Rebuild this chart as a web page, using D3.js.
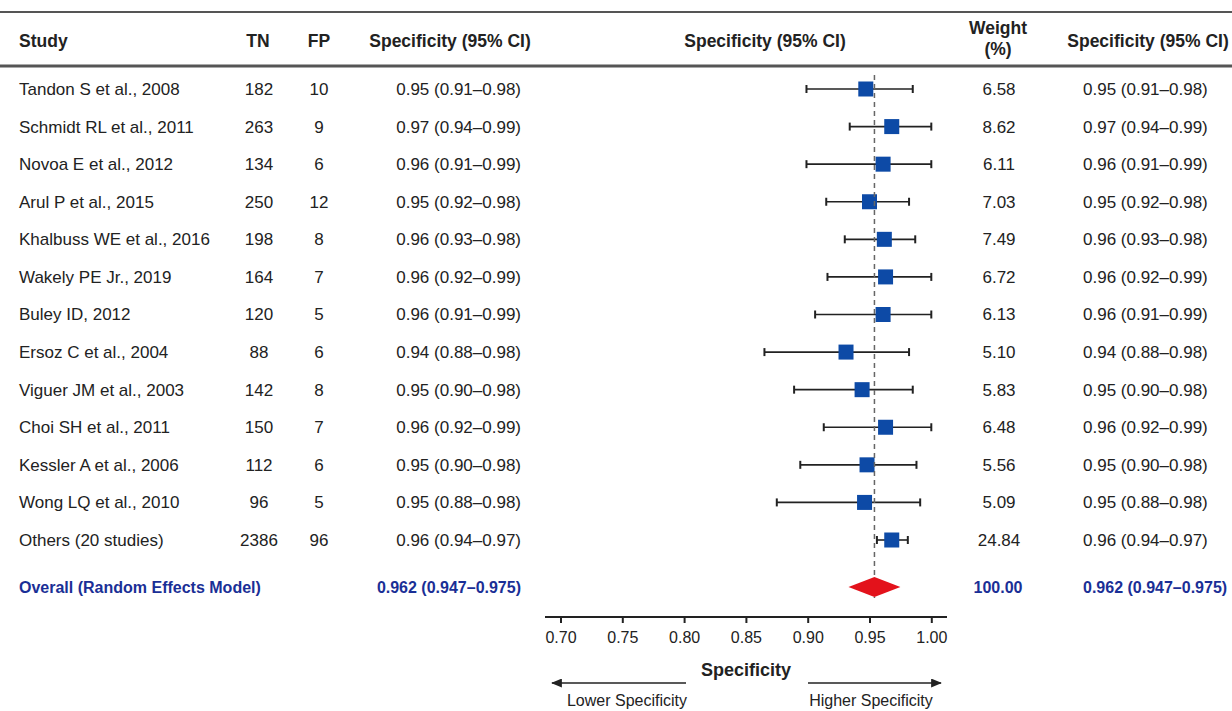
<!DOCTYPE html>
<html><head><meta charset="utf-8">
<script src="https://cdn.jsdelivr.net/npm/d3@7"></script>
<style>
body{margin:0;background:#fff;}
svg{display:block;font-family:"Liberation Sans",Arial,sans-serif;}
</style></head>
<body>
<svg id="chart" width="1232" height="711"></svg>
<script>
// ---- data ----
const studies = ["Tandon S et al., 2008","Schmidt RL et al., 2011","Novoa E et al., 2012","Arul P et al., 2015","Khalbuss WE et al., 2016","Wakely PE Jr., 2019","Buley ID, 2012","Ersoz C et al., 2004","Viguer JM et al., 2003","Choi SH et al., 2011","Kessler A et al., 2006","Wong LQ et al., 2010","Others (20 studies)"];
const tn = [182,263,134,250,198,164,120,88,142,150,112,96,2386];
const fp = [10,9,6,12,8,7,5,6,8,7,6,5,96];
const ciText = ["0.95 (0.91\u20130.98)","0.97 (0.94\u20130.99)","0.96 (0.91\u20130.99)","0.95 (0.92\u20130.98)","0.96 (0.93\u20130.98)","0.96 (0.92\u20130.99)","0.96 (0.91\u20130.99)","0.94 (0.88\u20130.98)","0.95 (0.90\u20130.98)","0.96 (0.92\u20130.99)","0.95 (0.90\u20130.98)","0.95 (0.88\u20130.98)","0.96 (0.94\u20130.97)"];
const weights = ["6.58","8.62","6.11","7.03","7.49","6.72","6.13","5.10","5.83","6.48","5.56","5.09","24.84"];
// plotted positions
const est = [0.947,0.968,0.961,0.950,0.962,0.963,0.961,0.931,0.944,0.963,0.948,0.946,0.968];
const lo  = [0.899,0.934,0.899,0.915,0.930,0.916,0.906,0.865,0.889,0.913,0.894,0.875,0.956];
const hi  = [0.985,1.000,1.000,0.982,0.987,1.000,1.000,0.982,0.985,1.000,0.988,0.991,0.981];
const overallLabel = "Overall (Random Effects Model)";
const overallText = "0.962 (0.947\u20130.975)";
const overallWeight = "100.00";
const overallEst = 0.954, overallLo = 0.933, overallHi = 0.975;
const refLine = 0.954;
const xTicks = [0.70,0.75,0.80,0.85,0.90,0.95,1.00];

// ---- drawing ----
const svg = d3.select("#chart");
const txt = "#222", blue = "#1a2f96", sq = "#0d4aa6", red = "#e3121b";
const x = d3.scaleLinear().domain([0.70,1.00]).range([560.5,931.3]);
const y = d3.scalePoint().domain(studies).range([89,540]);
const yOverall = 587;
const fs = 17;

// rules
svg.append("line").attr("x1",0).attr("x2",1232).attr("y1",12).attr("y2",12).attr("stroke","#555").attr("stroke-width",2);
svg.append("line").attr("x1",0).attr("x2",1232).attr("y1",66).attr("y2",66).attr("stroke","#555").attr("stroke-width",3);

// headers
const hdr = (t,xx,yy,anchor)=>svg.append("text").attr("x",xx).attr("y",yy).attr("text-anchor",anchor).attr("dy","0.35em")
  .attr("font-size",17.5).attr("font-weight","bold").attr("fill",txt).text(t);
hdr("Study",19,41,"start");
hdr("TN",258,41,"middle");
hdr("FP",319,41,"middle");
hdr("Specificity (95% CI)",450,41,"middle");
hdr("Specificity (95% CI)",765,41,"middle");
hdr("Weight",998,28,"middle");
hdr("(%)",998,49,"middle");
hdr("Specificity (95% CI)",1148,41,"middle");

// rows
const rows = svg.append("g").selectAll("g").data(studies).join("g")
  .attr("transform",d=>`translate(0,${y(d)})`);
const cell = (sel,xx,anchor,f)=>sel.append("text").attr("x",xx).attr("dy","0.35em").attr("text-anchor",anchor)
  .attr("font-size",fs).attr("fill",txt).text(f);
cell(rows,19,"start",d=>d);
cell(rows,259,"middle",(d,i)=>tn[i]);
cell(rows,319,"middle",(d,i)=>fp[i]);
cell(rows,521,"end",(d,i)=>ciText[i]);
cell(rows,999,"middle",(d,i)=>weights[i]);
cell(rows,1083,"start",(d,i)=>ciText[i]);

// reference dashed line
svg.append("line").attr("x1",x(refLine)).attr("x2",x(refLine)).attr("y1",75).attr("y2",598)
  .attr("stroke","#666").attr("stroke-width",1.5).attr("stroke-dasharray","5,4");

// whiskers
rows.append("line").attr("x1",(d,i)=>x(lo[i])).attr("x2",(d,i)=>x(hi[i])).attr("stroke","#222").attr("stroke-width",1.6);
rows.append("line").attr("x1",(d,i)=>x(lo[i])).attr("x2",(d,i)=>x(lo[i])).attr("y1",-4).attr("y2",4).attr("stroke","#222").attr("stroke-width",2);
rows.append("line").attr("x1",(d,i)=>x(hi[i])).attr("x2",(d,i)=>x(hi[i])).attr("y1",-4).attr("y2",4).attr("stroke","#222").attr("stroke-width",2);
const s = 15;
rows.append("rect").attr("x",(d,i)=>x(est[i])-s/2).attr("y",-s/2).attr("width",s).attr("height",s).attr("fill",sq);

// overall
const ov = svg.append("g").attr("transform",`translate(0,${yOverall})`);
const btxt = (xx,anchor,t)=>ov.append("text").attr("x",xx).attr("dy","0.35em").attr("text-anchor",anchor)
  .attr("font-size",16).attr("font-weight","bold").attr("fill",blue).text(t);
btxt(19,"start",overallLabel);
btxt(521,"end",overallText);
btxt(998,"middle",overallWeight);
btxt(1083,"start",overallText);
ov.append("path").attr("d",`M${x(overallLo)},0L${x(overallEst)},-10L${x(overallHi)},0L${x(overallEst)},10Z`).attr("fill",red);

// axis
const axisG = svg.append("g").attr("transform","translate(0,617)");
axisG.call(d3.axisBottom(x).tickValues(xTicks).tickFormat(d3.format(".2f")).tickSize(6).tickPadding(9));
axisG.select(".domain").remove();
axisG.selectAll(".tick line").attr("stroke","#222").attr("stroke-width",2);
axisG.selectAll(".tick text").attr("font-size",16).attr("fill",txt).attr("font-family","Liberation Sans, Arial, sans-serif");
axisG.append("line").attr("x1",545).attr("x2",947).attr("stroke","#222").attr("stroke-width",2);

svg.append("text").attr("x",746).attr("y",670).attr("dy","0.35em").attr("text-anchor","middle")
  .attr("font-size",18).attr("font-weight","bold").attr("fill",txt).text("Specificity");

// arrows
const defs = svg.append("defs");
defs.append("marker").attr("id","ah").attr("viewBox","0 0 12 10").attr("refX",11).attr("refY",5)
  .attr("markerWidth",12).attr("markerHeight",9).attr("markerUnits","userSpaceOnUse").attr("orient","auto")
  .append("path").attr("d","M0,0L12,5L0,10Z").attr("fill","#222");
svg.append("line").attr("x1",686).attr("x2",552).attr("y1",683).attr("y2",683).attr("stroke","#222").attr("stroke-width",1.6).attr("marker-end","url(#ah)");
svg.append("line").attr("x1",808).attr("x2",941).attr("y1",683).attr("y2",683).attr("stroke","#222").attr("stroke-width",1.6).attr("marker-end","url(#ah)");
svg.append("text").attr("x",627).attr("y",700).attr("dy","0.35em").attr("text-anchor","middle").attr("font-size",16).attr("fill",txt).text("Lower Specificity");
svg.append("text").attr("x",871).attr("y",700).attr("dy","0.35em").attr("text-anchor","middle").attr("font-size",16).attr("fill",txt).text("Higher Specificity");
</script>
</body></html>
